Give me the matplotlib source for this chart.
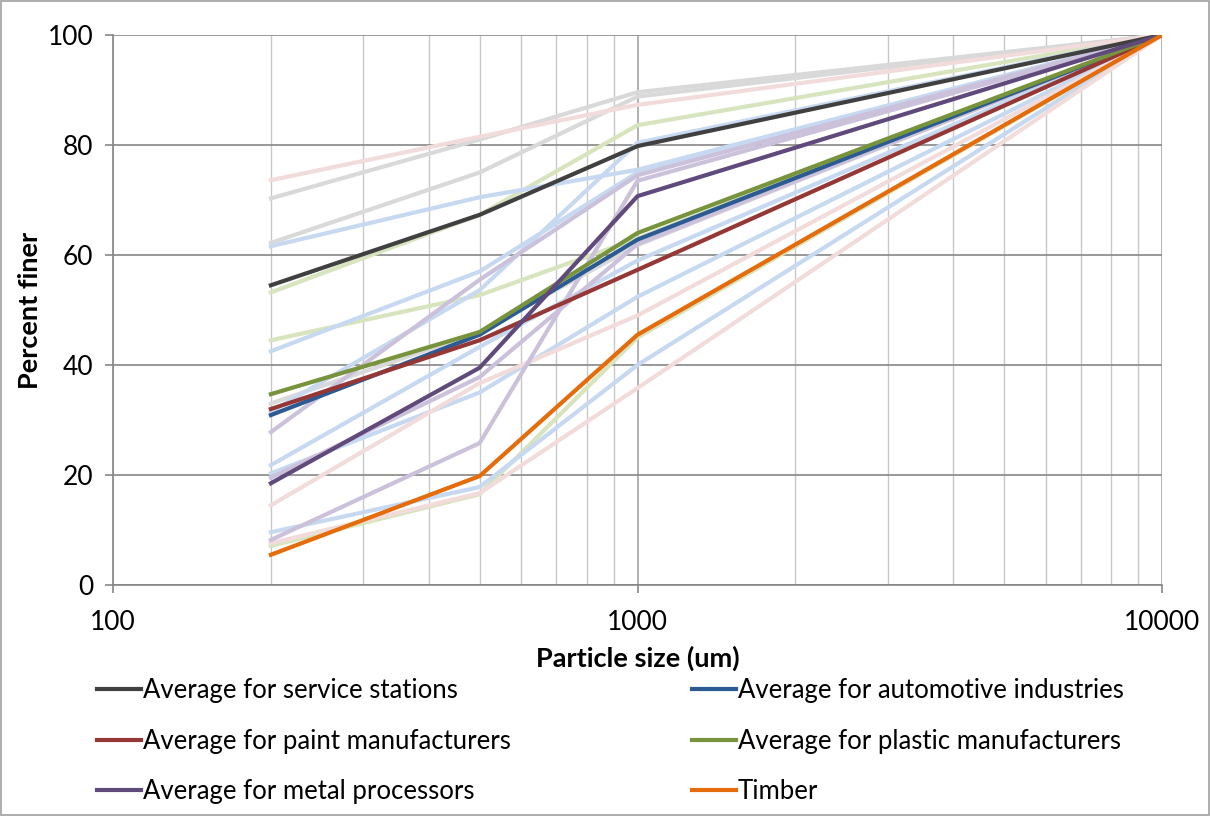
import matplotlib
matplotlib.use("Agg")
import matplotlib.pyplot as plt
from matplotlib.patches import Rectangle
from matplotlib.ticker import FixedLocator, NullFormatter

plt.rcParams['font.family'] = ['Lato', 'DejaVu Sans']

# Sieve sizes (um)
sizes = [200, 500, 1000, 10000]

# Averages per industry (percent finer)
service_stations = [54.5, 67.3, 79.8, 100]
automotive = [30.9, 45.5, 62.8, 100]
paint = [32.0, 44.5, 57.3, 100]
plastic = [34.7, 46.0, 64.0, 100]
metal = [18.5, 39.5, 70.7, 100]
timber = [5.5, 19.8, 45.5, 100]

# Individual site samples (drawn faint behind the averages)
service_samples = [
    [70.3, 81.0, 89.6, 100],
    [62.2, 75.0, 88.8, 100],
    [33.0, 46.0, 61.8, 100],
]
automotive_samples = [
    [61.6, 70.5, 75.5, 100],
    [42.5, 57.0, 75.0, 100],
    [31.5, 53.6, 80.4, 100],
    [21.8, 43.3, 59.0, 100],
    [20.3, 35.0, 52.4, 100],
    [9.6, 17.8, 40.0, 100],
]
paint_samples = [
    [73.6, 81.5, 87.3, 100],
    [14.5, 36.7, 49.0, 100],
    [7.6, 16.7, 35.8, 100],
]
plastic_samples = [
    [53.2, 67.3, 83.6, 100],
    [44.5, 52.7, 63.0, 100],
    [7.1, 16.5, 45.0, 100],
]
metal_samples = [
    [27.8, 55.5, 74.5, 100],
    [8.2, 25.8, 73.5, 100],
    [19.5, 37.8, 62.0, 100],
]

avg_labels = [
    "Average for service stations",
    "Average for automotive industries",
    "Average for paint manufacturers",
    "Average for plastic manufacturers",
    "Average for metal processors",
    "Timber",
]

fig = plt.figure(figsize=(12.10, 8.16), dpi=100)
ax = fig.add_axes([113 / 1210, 1 - 585 / 816, (1162 - 113) / 1210, (585 - 35) / 816])

faint_groups = [
    (service_samples, "#D9D9D9"),
    (plastic_samples, "#D7E4BD"),
    (automotive_samples, "#C6D9F1"),
    (paint_samples, "#F2DCDB"),
    (metal_samples, "#CCC1DA"),
]
for samples, col in faint_groups:
    for s in samples:
        ax.plot(sizes, s, color=col, lw=3.0, solid_joinstyle="round", zorder=2)

avg_series = [service_stations, automotive, paint, plastic, metal, timber]
avg_colors = ["#404040", "#2C5A92", "#953735", "#77933C", "#604A7B", "#E46C0A"]
handles = []
for series, col, lab in zip(avg_series, avg_colors, avg_labels):
    h, = ax.plot(sizes, series, color=col, lw=3.0, solid_joinstyle="round",
                 label=lab, zorder=3)
    handles.append(h)

ax.set_xscale("log")
ax.set_xlim(100, 10000)
ax.set_ylim(0, 100)
ax.set_yticks([0, 20, 40, 60, 80, 100])
ax.xaxis.set_major_locator(FixedLocator([100, 1000, 10000]))
ax.set_xticklabels(["100", "1000", "10000"])
minor = [m * d for d in (100, 1000) for m in range(2, 10)]
ax.xaxis.set_minor_locator(FixedLocator(minor))
ax.xaxis.set_minor_formatter(NullFormatter())

ax.grid(True, which="major", axis="y", color="#868686", lw=1.2, zorder=0)
ax.grid(True, which="major", axis="x", color="#A6A6A6", lw=1.2, zorder=0)
ax.grid(True, which="minor", axis="x", color="#C8C8C8", lw=1.0, zorder=0)
ax.set_axisbelow(True)

for side in ("top", "right"):
    ax.spines[side].set_visible(False)
for side in ("left", "bottom"):
    ax.spines[side].set_color("#868686")
    ax.spines[side].set_linewidth(1.2)

ax.tick_params(axis="both", which="major", direction="out", length=6,
               color="#868686", width=1.2, labelsize=19, labelcolor="#000000")
ax.tick_params(axis="x", which="minor", length=0)
ax.tick_params(axis="x", which="major", pad=12)
ax.tick_params(axis="y", which="major", pad=8)

ax.set_ylabel("Percent finer", fontsize=19.5, fontweight="bold", labelpad=4)
ax.set_xlabel("Particle size (um)", fontsize=19.5, fontweight="bold", labelpad=8)

leg_kw = dict(frameon=False, fontsize=18.5, handlelength=1.7, handletextpad=0.08,
              labelspacing=1.0, borderaxespad=0, borderpad=0, loc="upper left")
fig.legend([handles[0], handles[2], handles[4]],
           [avg_labels[0], avg_labels[2], avg_labels[4]],
           bbox_to_anchor=(97 / 1210, 1 - 678 / 816), **leg_kw)
fig.legend([handles[1], handles[3], handles[5]],
           [avg_labels[1], avg_labels[3], avg_labels[5]],
           bbox_to_anchor=(692 / 1210, 1 - 678 / 816), **leg_kw)

fig.patches.append(Rectangle((0.001, 0.001), 0.998, 0.998, transform=fig.transFigure,
                             fill=False, edgecolor="#A0A0A0", lw=1.2))

fig.savefig("out.png", dpi=100)
